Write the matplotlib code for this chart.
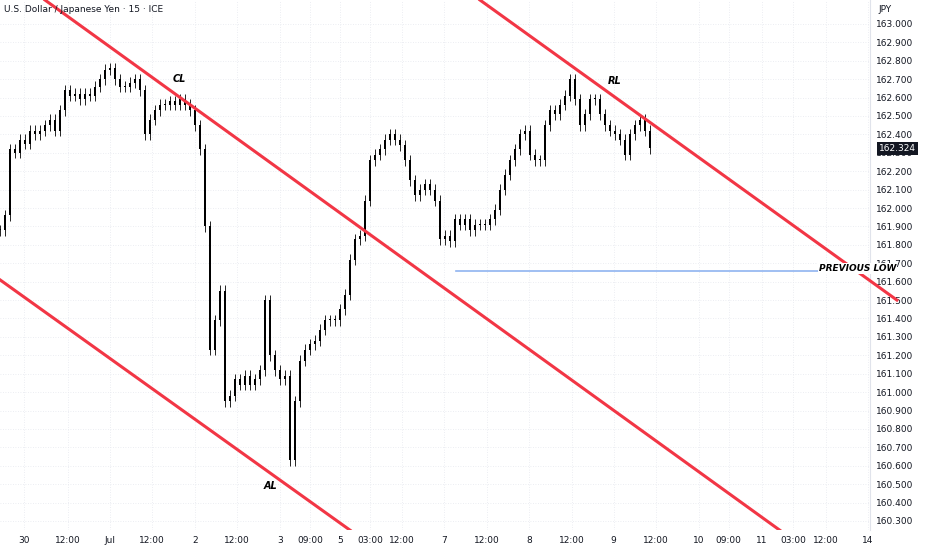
import matplotlib.pyplot as plt
import numpy as np

# closes, one every ~1.41 h (15-min chart, thinned)
closes = [161.88, 161.96, 162.32, 162.30, 162.37, 162.35, 162.42, 162.40, 162.42, 162.45,
          162.48, 162.42, 162.53, 162.64, 162.61, 162.62, 162.59, 162.62, 162.61, 162.66,
          162.70, 162.75, 162.76, 162.70, 162.66, 162.66, 162.68, 162.70, 162.64, 162.40,
          162.48, 162.53, 162.56, 162.56, 162.58, 162.56, 162.59, 162.56, 162.53, 162.45,
          162.32, 161.90, 161.23, 161.39, 161.55, 160.95, 160.98, 161.07, 161.04, 161.09,
          161.04, 161.07, 161.12, 161.50, 161.20, 161.12, 161.07, 161.09, 160.63, 160.95,
          161.17, 161.23, 161.26, 161.28, 161.34, 161.39, 161.39, 161.39, 161.45, 161.53,
          161.72, 161.83, 161.85, 162.04, 162.26, 162.29, 162.32, 162.37, 162.40, 162.37,
          162.34, 162.26, 162.15, 162.07, 162.10, 162.13, 162.10, 162.04, 161.83, 161.85,
          161.82, 161.94, 161.91, 161.94, 161.88, 161.91, 161.91, 161.91, 161.94, 161.99,
          162.10, 162.18, 162.26, 162.32, 162.40, 162.42, 162.29, 162.26, 162.26, 162.45,
          162.53, 162.51, 162.56, 162.61, 162.70, 162.59, 162.45, 162.51, 162.59, 162.59,
          162.51, 162.45, 162.42, 162.40, 162.37, 162.29, 162.40, 162.45, 162.48, 162.42,
          162.324]
step_h = 1.412
last_price = 162.324

# trend lines: (hours, price) endpoints
lower_line = [(0.0, 161.61), (98.9, 160.25)]
mid_line = [(12.7, 163.13), (220.3, 160.25)]
upper_line = [(135.6, 163.13), (253.4, 161.50)]
prev_low = 161.66
prev_low_start = 128.8

labels = [("CL", 50.8, 162.70), ("AL", 76.3, 160.49), ("RL", 173.7, 162.69)]

tick_hours = [6.8, 19.2, 31.1, 42.9, 55.1, 66.9, 79.1, 87.6, 96.0, 104.5, 113.6, 125.4,
              137.6, 149.4, 161.6, 173.4, 185.3, 197.5, 205.9, 215.3, 224.0, 233.3, 245.2]
tick_labels = ["30", "12:00", "Jul", "12:00", "2", "12:00", "3", "09:00", "5", "03:00",
               "12:00", "7", "12:00", "8", "12:00", "9", "12:00", "10", "09:00", "11",
               "03:00", "12:00", "14"]

fig = plt.figure(figsize=(9.32, 5.5), dpi=100)
ax = fig.add_axes([0, 20 / 550, 870 / 932, 530 / 550])
ax.set_xlim(0, 245.8)
ax.set_ylim(160.251, 163.130)

# candles
t = np.arange(len(closes)) * step_h
opens = [closes[0]] + closes[:-1]
for x, o, c in zip(t, opens, closes):
    lo, hi = min(o, c), max(o, c)
    ax.vlines(x, lo - 0.03, hi + 0.03, color="black", lw=0.6, zorder=3)
    ax.bar(x, max(hi - lo, 0.005), bottom=lo, width=0.45, color="black", zorder=3)

for ln in (lower_line, mid_line, upper_line):
    ax.plot([ln[0][0], ln[1][0]], [ln[0][1], ln[1][1]], color="#f23645", lw=2.2,
            zorder=4, clip_on=(ln is not upper_line))

ax.plot([prev_low_start, 245.8], [prev_low, prev_low], color="#90b4f0", lw=1.2, zorder=2)
ax.text(1.03, (prev_low - 160.251) / (163.130 - 160.251) + 0.004, "PREVIOUS LOW",
        transform=ax.transAxes, ha="right", va="center", fontsize=6.5, weight="bold",
        style="italic", zorder=5, bbox=dict(facecolor="white", edgecolor="none", pad=0.5))
for txt, x, y in labels:
    ax.text(x, y, txt, fontsize=7, weight="bold", style="italic", ha="center", va="center")

ax.set_xticks(tick_hours)
ax.set_xticklabels(tick_labels, fontsize=6.5, color="#131722")
yt = np.round(np.arange(160.3, 163.05, 0.1), 1)
ax.set_yticks(yt)
ax.set_yticklabels([f"{v:.3f}" for v in yt], fontsize=6.5, color="#131722")
ax.yaxis.tick_right()
ax.tick_params(length=0, pad=4)
ax.grid(True, color="#e6e8ee", lw=0.6, ls=(0, (1, 2)))
for s in ["top", "left", "bottom"]:
    ax.spines[s].set_visible(False)
ax.spines["right"].set_color("#e0e3eb")

ax.text(1.01, (last_price - 160.251) / (163.130 - 160.251), f"{last_price:.3f}",
        transform=ax.transAxes, ha="left", va="center", fontsize=6.5, color="white",
        bbox=dict(facecolor="#131722", edgecolor="none", pad=1.5), zorder=6)
fig.text(4 / 932, 1 - 10 / 550, "U.S. Dollar / Japanese Yen · 15 · ICE", fontsize=6.5,
         va="center", color="#131722")
fig.text(878 / 932, 1 - 10 / 550, "JPY", fontsize=6.5, va="center", color="#131722")

fig.savefig("out.png", dpi=100)
